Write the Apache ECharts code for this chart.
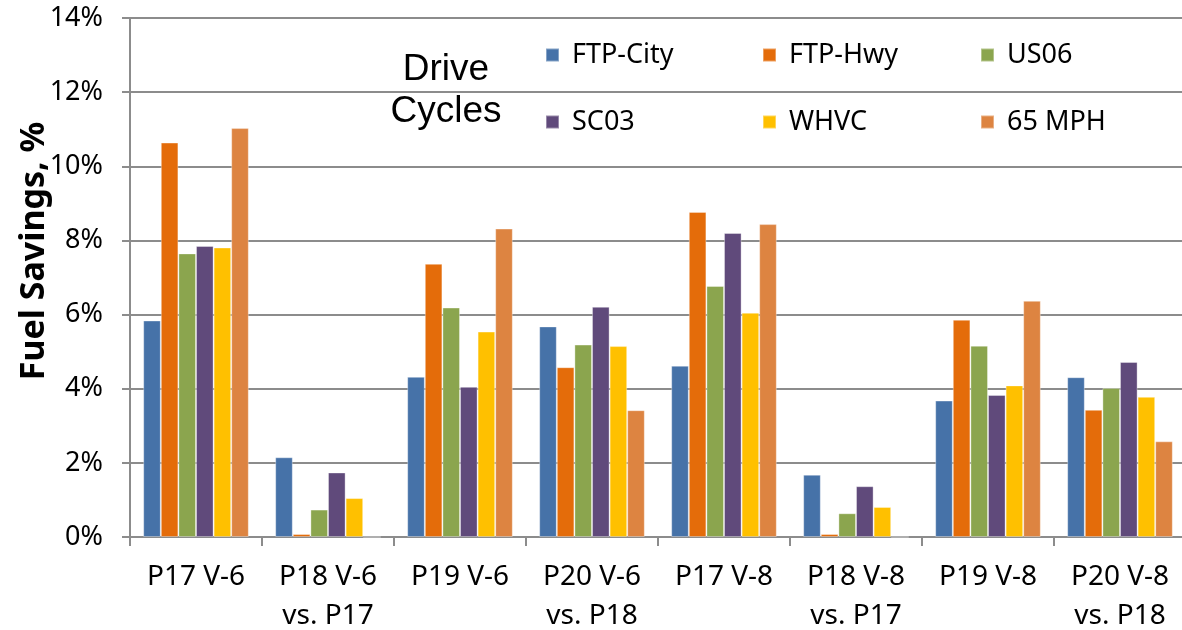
<!DOCTYPE html>
<html>
<head>
    <meta charset="utf-8">
    <title>fuel savings</title>
    <style>
        html, body { margin: 0; padding: 0; background: #fff; }
    </style>
</head>
<body>
<div id="main" style="width: 1182px;height:630px;"></div>

<script src="https://cdn.jsdelivr.net/npm/echarts@6/dist/echarts.min.js"></script>

<script>
    // categories on the x axis
    var categories = ['P17 V-6', 'P18 V-6\nvs. P17', 'P19 V-6', 'P20 V-6\nvs. P18',
        'P17 V-8', 'P18 V-8\nvs. P17', 'P19 V-8', 'P20 V-8\nvs. P18'];

    // drive cycles, fuel savings in %
    var ftpCity = [5.84, 2.15, 4.32, 5.68, 4.62, 1.68, 3.68, 4.31];
    var ftpHwy  = [10.64, 0.08, 7.37, 4.58, 8.77, 0.08, 5.86, 3.43];
    var us06    = [7.65, 0.74, 6.19, 5.19, 6.77, 0.64, 5.16, 4.02];
    var sc03    = [7.85, 1.74, 4.05, 6.21, 8.20, 1.37, 3.83, 4.72];
    var whvc    = [7.81, 1.05, 5.54, 5.15, 6.05, 0.81, 4.09, 3.78];
    var mph65   = [11.03, 0, 8.32, 3.42, 8.44, 0, 6.37, 2.58];

    var yTicks = [0, 2, 4, 6, 8, 10, 12, 14];

    var seriesNames = ['FTP-City', 'FTP-Hwy', 'US06', 'SC03', 'WHVC', '65 MPH'];
    var seriesData = [ftpCity, ftpHwy, us06, sc03, whvc, mph65];
    var colors = ['#4672a8', '#e46c0a', '#8ba54e', '#604a7b', '#ffc000', '#dd8441'];

    var font = '"Noto Sans", sans-serif';

    var myChart = echarts.init(document.getElementById('main'));

    var series = [];
    for (var i = 0; i < seriesNames.length; i++) {
        series.push({
            name: seriesNames[i],
            type: 'bar',
            barGap: '0%',
            barCategoryGap: '20%',
            data: seriesData[i],
            itemStyle: {
                color: colors[i],
                borderColor: 'rgba(255,255,255,0.35)',
                borderWidth: 1
            },
            emphasis: { disabled: true }
        });
    }

    // legend in two rows of three, one legend per item
    var legendLeft = [545, 762, 980];
    var legendTop = [40, 107];
    var legends = [];
    for (var j = 0; j < seriesNames.length; j++) {
        legends.push({
            data: [seriesNames[j]],
            left: legendLeft[j % 3],
            top: legendTop[Math.floor(j / 3)],
            icon: 'rect',
            itemWidth: 13,
            itemHeight: 13,
            padding: 0,
            selectedMode: false,
            textStyle: {
                fontFamily: font,
                fontSize: 27,
                lineHeight: 30,
                color: '#000',
                padding: [0, 0, 0, 8]
            }
        });
    }

    var option = {
        animation: false,
        legend: legends,
        grid: {
            left: 130,
            top: 18,
            width: 1056,
            height: 519,
            outerBoundsMode: 'none'
        },
        xAxis: {
            type: 'category',
            data: categories,
            axisLine: { lineStyle: { color: '#8c8c8c', width: 2 } },
            axisTick: { show: true, length: 9, lineStyle: { color: '#8c8c8c', width: 2 } },
            axisLabel: {
                fontFamily: font,
                fontSize: 28,
                lineHeight: 39,
                color: '#000',
                margin: 21,
                interval: 0
            }
        },
        yAxis: {
            type: 'value',
            min: yTicks[0],
            max: yTicks[yTicks.length - 1],
            interval: 2,
            axisLine: { show: true, lineStyle: { color: '#8c8c8c', width: 2 } },
            axisTick: { show: true, length: 8, lineStyle: { color: '#8c8c8c', width: 2 } },
            splitLine: { lineStyle: { color: '#8c8c8c', width: 2 } },
            axisLabel: {
                fontFamily: font,
                fontSize: 27,
                color: '#000',
                margin: 27,
                formatter: '{value}%'
            }
        },
        graphic: [
            {
                type: 'text',
                x: 34,
                y: 251,
                rotation: Math.PI / 2,
                style: {
                    text: 'Fuel Savings, %',
                    fontFamily: font,
                    fontWeight: 'bold',
                    fontSize: 34,
                    fill: '#000',
                    textAlign: 'center',
                    textVerticalAlign: 'middle'
                }
            },
            {
                type: 'text',
                x: 446,
                y: 49,
                style: {
                    text: 'Drive\nCycles',
                    fontFamily: '"Liberation Sans", Arial, sans-serif',
                    fontSize: 37,
                    lineHeight: 42,
                    fill: '#000',
                    textAlign: 'center',
                    textVerticalAlign: 'top'
                }
            }
        ],
        series: series
    };

    myChart.setOption(option);
</script>
</body>
</html>
